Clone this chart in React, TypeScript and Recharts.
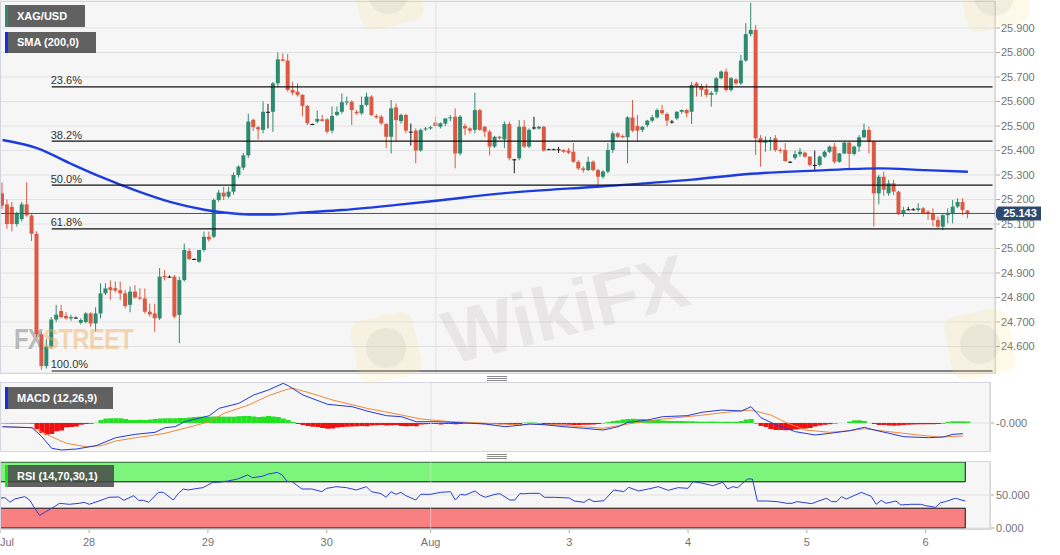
import React from 'react'
import {
  ComposedChart,
  Bar,
  Line,
  XAxis,
  YAxis,
  CartesianGrid,
  ReferenceLine,
  ReferenceArea,
} from 'recharts'

// hourly XAG/USD candles: open, high, low, close
const CANDLES: number[][] = [
  [25.225, 25.27, 25.16, 25.175], [25.18, 25.2, 25.08, 25.1], [25.17, 25.19, 25.07, 25.1], [25.1, 25.15, 25.09, 25.145], [25.12, 25.19, 25.11, 25.18],
  [25.18, 25.27, 25.13, 25.135], [25.135, 25.14, 25.03, 25.06], [25.06, 25.07, 24.64, 24.65], [24.65, 24.66, 24.505, 24.52], [24.52, 24.63, 24.51, 24.6],
  [24.6, 24.72, 24.59, 24.71], [24.71, 24.77, 24.7, 24.73], [24.745, 24.77, 24.715, 24.72], [24.725, 24.74, 24.71, 24.715], [24.715, 24.73, 24.705, 24.72],
  [24.718, 24.722, 24.714, 24.718], [24.697, 24.715, 24.69, 24.708], [24.7, 24.74, 24.695, 24.735], [24.735, 24.74, 24.68, 24.694], [24.694, 24.76, 24.66, 24.735],
  [24.735, 24.858, 24.715, 24.817], [24.817, 24.858, 24.81, 24.837], [24.842, 24.87, 24.79, 24.83], [24.838, 24.865, 24.82, 24.828], [24.83, 24.865, 24.79, 24.817],
  [24.817, 24.83, 24.756, 24.765], [24.77, 24.845, 24.74, 24.824], [24.824, 24.85, 24.795, 24.8], [24.8, 24.838, 24.79, 24.796], [24.796, 24.837, 24.735, 24.742],
  [24.742, 24.775, 24.722, 24.731], [24.735, 24.775, 24.66, 24.715], [24.715, 24.92, 24.708, 24.885], [24.888, 24.912, 24.87, 24.882], [24.885, 24.89, 24.88, 24.885],
  [24.885, 24.892, 24.715, 24.722], [24.729, 24.885, 24.613, 24.871], [24.871, 25.02, 24.865, 24.994], [24.99, 25.0, 24.953, 24.957], [24.957, 24.96, 24.955, 24.957],
  [24.946, 24.994, 24.942, 24.994], [24.994, 25.069, 24.987, 25.048], [25.048, 25.069, 25.028, 25.037], [25.048, 25.205, 25.042, 25.198], [25.198, 25.239, 25.19, 25.228],
  [25.228, 25.252, 25.198, 25.212], [25.212, 25.252, 25.205, 25.232], [25.232, 25.31, 25.22, 25.3], [25.3, 25.34, 25.29, 25.334], [25.33, 25.39, 25.32, 25.38],
  [25.38, 25.55, 25.37, 25.518], [25.525, 25.53, 25.48, 25.495], [25.495, 25.5, 25.445, 25.486], [25.484, 25.6, 25.47, 25.558], [25.558, 25.59, 25.49, 25.558],
  [25.558, 25.68, 25.476, 25.674], [25.674, 25.8, 25.66, 25.772], [25.772, 25.797, 25.763, 25.766], [25.767, 25.794, 25.64, 25.647], [25.647, 25.68, 25.626, 25.636],
  [25.64, 25.674, 25.62, 25.627], [25.627, 25.63, 25.54, 25.582], [25.582, 25.586, 25.504, 25.511], [25.508, 25.51, 25.505, 25.508], [25.518, 25.563, 25.511, 25.529],
  [25.527, 25.545, 25.518, 25.521], [25.527, 25.532, 25.47, 25.477], [25.481, 25.58, 25.47, 25.541], [25.545, 25.58, 25.54, 25.558], [25.558, 25.633, 25.55, 25.597],
  [25.597, 25.62, 25.585, 25.6], [25.599, 25.605, 25.504, 25.565], [25.558, 25.565, 25.545, 25.552], [25.552, 25.62, 25.545, 25.586], [25.586, 25.636, 25.58, 25.62],
  [25.62, 25.625, 25.54, 25.545], [25.541, 25.548, 25.53, 25.535], [25.538, 25.545, 25.505, 25.511], [25.508, 25.512, 25.41, 25.456], [25.456, 25.606, 25.388, 25.572],
  [25.576, 25.592, 25.436, 25.524], [25.52, 25.55, 25.51, 25.545], [25.545, 25.55, 25.47, 25.481], [25.477, 25.51, 25.42, 25.477], [25.481, 25.49, 25.348, 25.4],
  [25.4, 25.49, 25.395, 25.484], [25.486, 25.496, 25.48, 25.49], [25.49, 25.5, 25.485, 25.495], [25.514, 25.538, 25.495, 25.5], [25.497, 25.515, 25.49, 25.511],
  [25.51, 25.531, 25.5, 25.531], [25.531, 25.545, 25.52, 25.535], [25.538, 25.572, 25.327, 25.388], [25.388, 25.545, 25.38, 25.538], [25.5, 25.51, 25.463, 25.49],
  [25.49, 25.495, 25.47, 25.481], [25.484, 25.636, 25.47, 25.565], [25.565, 25.57, 25.48, 25.484], [25.497, 25.5, 25.456, 25.477], [25.477, 25.484, 25.38, 25.416],
  [25.416, 25.46, 25.41, 25.456], [25.456, 25.46, 25.445, 25.45], [25.445, 25.518, 25.41, 25.508], [25.508, 25.518, 25.36, 25.368], [25.364, 25.366, 25.307, 25.364],
  [25.368, 25.524, 25.36, 25.497], [25.497, 25.524, 25.41, 25.416], [25.416, 25.49, 25.41, 25.484], [25.494, 25.538, 25.485, 25.494], [25.49, 25.5, 25.485, 25.497],
  [25.497, 25.5, 25.395, 25.4], [25.405, 25.408, 25.402, 25.405], [25.405, 25.408, 25.402, 25.405], [25.405, 25.415, 25.39, 25.405], [25.402, 25.405, 25.39, 25.395],
  [25.4, 25.41, 25.385, 25.391], [25.395, 25.43, 25.35, 25.354], [25.354, 25.36, 25.32, 25.327], [25.327, 25.335, 25.31, 25.32], [25.32, 25.375, 25.315, 25.354],
  [25.354, 25.36, 25.315, 25.32], [25.32, 25.325, 25.26, 25.293], [25.293, 25.32, 25.285, 25.314], [25.314, 25.43, 25.307, 25.402], [25.402, 25.478, 25.39, 25.47],
  [25.47, 25.475, 25.45, 25.456], [25.459, 25.465, 25.45, 25.454], [25.454, 25.54, 25.348, 25.535], [25.535, 25.606, 25.475, 25.481], [25.5, 25.545, 25.436, 25.481],
  [25.484, 25.5, 25.475, 25.497], [25.504, 25.525, 25.495, 25.522], [25.522, 25.545, 25.515, 25.535], [25.535, 25.572, 25.53, 25.565], [25.565, 25.586, 25.545, 25.552],
  [25.549, 25.555, 25.5, 25.522], [25.518, 25.525, 25.51, 25.518], [25.531, 25.56, 25.525, 25.558], [25.558, 25.568, 25.55, 25.565], [25.565, 25.57, 25.535, 25.552],
  [25.558, 25.68, 25.508, 25.667], [25.674, 25.68, 25.62, 25.663], [25.663, 25.672, 25.62, 25.647], [25.65, 25.672, 25.618, 25.627], [25.627, 25.642, 25.579, 25.635],
  [25.64, 25.7, 25.627, 25.695], [25.695, 25.727, 25.69, 25.722], [25.722, 25.735, 25.64, 25.647], [25.647, 25.7, 25.64, 25.695], [25.69, 25.695, 25.667, 25.674],
  [25.674, 25.79, 25.667, 25.767], [25.767, 25.92, 25.762, 25.875], [25.875, 26.003, 25.865, 25.892], [25.892, 25.912, 25.382, 25.45], [25.45, 25.463, 25.334, 25.432],
  [25.432, 25.457, 25.395, 25.443], [25.436, 25.455, 25.4, 25.443], [25.45, 25.463, 25.395, 25.402], [25.402, 25.41, 25.39, 25.398], [25.402, 25.43, 25.354, 25.357],
  [25.354, 25.357, 25.35, 25.354], [25.37, 25.4, 25.362, 25.385], [25.385, 25.41, 25.375, 25.395], [25.391, 25.395, 25.37, 25.375], [25.375, 25.376, 25.334, 25.341],
  [25.341, 25.4, 25.314, 25.341], [25.341, 25.38, 25.335, 25.375], [25.375, 25.4, 25.37, 25.395], [25.395, 25.42, 25.39, 25.416], [25.416, 25.43, 25.346, 25.354],
  [25.354, 25.39, 25.35, 25.388], [25.388, 25.436, 25.385, 25.432], [25.432, 25.435, 25.327, 25.386], [25.386, 25.42, 25.38, 25.416], [25.416, 25.463, 25.395, 25.454],
  [25.454, 25.51, 25.45, 25.484], [25.484, 25.498, 25.388, 25.436], [25.436, 25.44, 25.09, 25.225], [25.225, 25.3, 25.18, 25.293], [25.293, 25.314, 25.215, 25.24],
  [25.225, 25.28, 25.215, 25.266], [25.266, 25.28, 25.218, 25.232], [25.232, 25.235, 25.136, 25.143], [25.143, 25.17, 25.13, 25.157], [25.16, 25.17, 25.155, 25.16],
  [25.16, 25.165, 25.155, 25.16], [25.157, 25.185, 25.15, 25.164], [25.164, 25.17, 25.14, 25.143], [25.15, 25.157, 25.117, 25.141], [25.141, 25.164, 25.09, 25.116],
  [25.116, 25.13, 25.082, 25.089], [25.089, 25.14, 25.075, 25.136], [25.136, 25.164, 25.103, 25.143], [25.143, 25.198, 25.103, 25.171], [25.171, 25.205, 25.165, 25.19],
  [25.19, 25.205, 25.137, 25.157], [25.155, 25.157, 25.123, 25.143],
]

// SMA(200) read at candle index
const SMA_POINTS = [
  [0, 25.443], [7, 25.41], [14, 25.345], [20, 25.292], [27, 25.237], [34, 25.19], [41, 25.158], [45, 25.147],
  [50, 25.139], [55, 25.139], [62, 25.148], [69, 25.157], [80, 25.178], [88, 25.195], [102, 25.226], [122, 25.254],
  [140, 25.281], [152, 25.305], [165, 25.318], [178, 25.327], [187, 25.32], [196, 25.313],
]

const MACD_POINTS = [
  [0, -0.037], [6, -0.047], [8, -0.137], [10, -0.253], [12, -0.27], [15, -0.26], [19, -0.227], [23, -0.147],
  [27, -0.113], [31, -0.093], [33, -0.047], [35, -0.037], [37, 0.013], [42, 0.073], [44, 0.147], [48, 0.197],
  [51, 0.28], [54, 0.33], [57, 0.397], [58, 0.373], [61, 0.28], [66, 0.187], [71, 0.163], [74, 0.12],
  [78, 0.073], [81, 0.063], [84, 0.013], [88, 0.013], [91, 0.007], [94, 0.0], [98, -0.01], [102, -0.037],
  [105, -0.023], [107, -0.01], [110, -0.017], [114, -0.037], [118, -0.053], [122, -0.07], [125, -0.037], [127, 0.007],
  [131, 0.03], [134, 0.063], [139, 0.073], [142, 0.107], [146, 0.13], [150, 0.12], [152, 0.163], [154, 0.053],
  [157, -0.017], [161, -0.087], [165, -0.12], [168, -0.103], [172, -0.077], [175, -0.043], [177, -0.07], [180, -0.103],
  [183, -0.137], [188, -0.147], [191, -0.14], [193, -0.113], [195, -0.107],
]

const SIGNAL_POINTS = [
  [0, -0.037], [6, -0.047], [10, -0.137], [13, -0.203], [17, -0.237], [20, -0.227], [23, -0.18], [27, -0.147],
  [30, -0.127], [33, -0.103], [37, -0.053], [42, 0.013], [45, 0.097], [50, 0.18], [54, 0.273], [58, 0.34],
  [59, 0.347], [62, 0.307], [67, 0.23], [74, 0.147], [81, 0.08], [85, 0.04], [91, 0.013], [96, 0.003],
  [101, -0.01], [105, -0.017], [107, -0.01], [114, -0.023], [122, -0.053], [127, -0.01], [134, 0.04], [141, 0.073],
  [147, 0.107], [152, 0.13], [156, 0.08], [159, 0.007], [163, -0.07], [168, -0.093], [172, -0.077], [175, -0.057],
  [180, -0.087], [186, -0.12], [190, -0.14], [195, -0.13],
]

// MACD histogram, one value per candle
const HIST = [
  -0.003, -0.004, -0.005, -0.005, -0.005, -0.005, -0.006, -0.06, -0.1, -0.117,
  -0.11, -0.083, -0.075, -0.043, -0.04, -0.035, -0.017, -0.01, -0.007, 0.002,
  0.03, 0.045, 0.047, 0.047, 0.047, 0.04, 0.03, 0.03, 0.032, 0.03,
  0.035, 0.04, 0.045, 0.047, 0.047, 0.047, 0.05, 0.05, 0.055, 0.06,
  0.063, 0.063, 0.063, 0.065, 0.065, 0.063, 0.063, 0.063, 0.068, 0.07,
  0.07, 0.065, 0.06, 0.063, 0.07, 0.065, 0.06, 0.045, 0.03, 0.01,
  -0.01, -0.02, -0.03, -0.037, -0.04, -0.05, -0.057, -0.055, -0.045, -0.04,
  -0.037, -0.035, -0.033, -0.03, -0.033, -0.025, -0.023, -0.02, -0.025, -0.023,
  -0.02, -0.03, -0.033, -0.03, -0.033, -0.015, -0.012, -0.01, -0.01, -0.015,
  -0.01, -0.01, -0.013, -0.01, -0.005, -0.003, -0.005, -0.01, -0.012, -0.015,
  -0.01, -0.012, -0.01, -0.015, -0.012, -0.01, 0.003, 0.005, 0.005, -0.005,
  -0.01, -0.013, -0.015, -0.015, -0.015, -0.017, -0.02, -0.02, -0.018, -0.017,
  -0.015, -0.01, -0.003, 0.01, 0.02, 0.025, 0.035, 0.04, 0.042, 0.04,
  0.04, 0.035, 0.03, 0.03, 0.025, 0.022, 0.02, 0.02, 0.02, 0.018,
  0.018, 0.015, 0.013, 0.013, 0.015, 0.013, 0.012, 0.013, 0.012, 0.013,
  0.02, 0.035, 0.04, -0.005, -0.03, -0.04, -0.06, -0.07, -0.07, -0.073,
  -0.07, -0.065, -0.06, -0.055, -0.05, -0.035, -0.025, -0.018, -0.012, -0.005,
  0, 0, 0.015, 0.027, 0.027, 0.02, 0, -0.01, -0.02, -0.02,
  -0.025, -0.027, -0.025, -0.02, -0.017, -0.015, -0.013, -0.013, -0.012, -0.012,
  -0.01, -0.005, 0.012, 0.017, 0.017, 0.017, 0.015,
]

const RSI_POINTS = [
  [0, 45], [1, 46], [2, 39], [3, 44], [5, 47.5], [6, 42.4], [7, 30], [8, 19], [9, 23.7], [11, 32.3],
  [12, 37.4], [14, 35.9], [16, 37.4], [17, 38.9], [18, 35.9], [20, 40.9], [22, 46.5], [24, 47], [25, 41.9], [27, 49],
  [28, 41.9], [29, 41.9], [30, 38.9], [32, 54], [33, 54], [35, 42.4], [36, 52], [37, 59.1], [38, 57.6], [40, 60.1],
  [41, 61.1], [43, 69.2], [44, 69.2], [46, 71.2], [48, 74.2], [50, 80.3], [51, 76.3], [53, 78.3], [54, 81.3], [56, 84.3],
  [57, 80.3], [58, 70.7], [59, 70.2], [61, 59.1], [63, 59.1], [65, 55.1], [66, 60.1], [68, 62.6], [70, 61.1], [72, 57.6],
  [74, 62.6], [75, 55.1], [77, 52], [78, 46.5], [79, 55.1], [80, 51], [81, 54], [82, 49], [84, 42.4], [85, 51],
  [87, 51], [89, 54], [91, 55], [92, 42.4], [93, 51], [94, 50], [96, 56.1], [97, 50], [98, 46.5], [100, 51],
  [101, 52], [103, 42.4], [104, 42.4], [105, 52], [106, 52], [107, 52.5], [109, 52.5], [110, 46.5], [112, 46.5], [115, 45.5],
  [116, 40.9], [118, 38.9], [119, 43.9], [120, 39.9], [122, 41.4], [124, 57.6], [126, 55.1], [127, 61.6], [129, 56.1], [131, 59.1],
  [133, 62.6], [135, 57.1], [137, 61.1], [139, 60.1], [140, 70.2], [142, 67.7], [144, 64.1], [146, 69.2], [147, 59.1], [148, 62.6],
  [149, 61.1], [151, 74.2], [152, 74.2], [153, 40.9], [155, 40.9], [157, 39.9], [159, 37.4], [160, 37.4], [161, 39.9], [164, 36.9],
  [165, 39.9], [167, 45.1], [168, 39.9], [169, 39.9], [170, 47.5], [171, 43.9], [174, 54], [175, 51], [176, 48], [177, 35.9],
  [178, 41.9], [179, 37.4], [181, 40.9], [182, 34.9], [184, 35.9], [186, 35.9], [187, 33.9], [189, 31.3], [190, 38.4], [191, 39.9],
  [193, 45.1], [195, 40.9],
]

const PRICE_TICKS = [24.5, 24.6, 24.7, 24.8, 24.9, 25.0, 25.1, 25.2, 25.3, 25.4, 25.5, 25.6, 25.7, 25.8, 25.9]
const DAY_TICKS = [0, 18, 42, 66, 87, 115, 139, 163, 187]
const DAY_LABELS = ['Jul', '28', '29', '30', 'Aug', '3', '4', '5', '6']
const FIB_RATIOS = [0.236, 0.382, 0.5, 0.618, 1]
const SWING_HIGH = 26.018
const SWING_LOW = 24.5
const FIB_START = 10
const LAST_PRICE = 25.143

const GREEN = '#2e8b6f'
const RED = '#dc5a43'
const PANEL_BG = '#f6f6f6'
const GRID = '#e2e2e2'
const AXIS_TEXT = '#737373'
const FONT = "'Liberation Sans', Arial, sans-serif"

const toMap = (pts: number[][]) => new Map(pts.map(([i, v]) => [i, v]))
const smaMap = toMap(SMA_POINTS)
const macdMap = toMap(MACD_POINTS)
const signalMap = toMap(SIGNAL_POINTS)
const rsiMap = toMap(RSI_POINTS)
const pick = (m: Map<number, number>, i: number) => (m.has(i) ? m.get(i) : null)

const mainRows = Array.from({ length: 202 }, (_, i) => {
  const k = CANDLES[i]
  return { i, range: k ? [k[2], k[1]] : null, ohlc: k || null, sma: pick(smaMap, i) }
})

const lowerRows = Array.from({ length: 201 }, (_, i) => ({
  i,
  macd: pick(macdMap, i),
  signal: pick(signalMap, i),
  hist: i < HIST.length ? HIST[i] : null,
  rsi: pick(rsiMap, i),
}))

function Candle(props: any) {
  const { x, y, width, height, payload } = props
  const k = payload && payload.ohlc
  if (!k) return null
  const [o, h, l, c] = k
  const top = Math.min(y, y + height)
  const span = Math.abs(height)
  const per = h > l ? span / (h - l) : 0
  const at = (v: number) => top + (h - v) * per
  const color = c > o ? GREEN : c < o ? RED : '#1a1a1a'
  const cx = x + width / 2
  const bodyTop = at(Math.max(o, c))
  const bodyH = Math.max(at(Math.min(o, c)) - bodyTop, 1)
  return (
    <g>
      <line x1={cx} x2={cx} y1={top} y2={top + span} stroke={color} strokeWidth={1} />
      <rect x={x} y={bodyTop} width={width} height={bodyH} fill={color} />
    </g>
  )
}

function HistBar(props: any) {
  const { x, y, width, height, payload } = props
  if (!payload || !payload.hist) return null
  return (
    <rect
      x={x}
      y={Math.min(y, y + height)}
      width={width}
      height={Math.abs(height)}
      fill={payload.hist > 0 ? '#22e022' : '#f01010'}
    />
  )
}

function FibLabel({ viewBox, text }: any) {
  if (!viewBox) return null
  return (
    <text x={viewBox.x - 1} y={viewBox.y - 2.5} fill="#333" fontSize={11} fontFamily={FONT}>
      {text}
    </text>
  )
}

function PriceTag({ viewBox }: any) {
  if (!viewBox) return null
  const y = viewBox.y
  const x0 = viewBox.x + viewBox.width
  return (
    <g>
      <path
        d={`M${x0 - 1},${y} L${x0 + 3},${y - 7} L${x0 + 46},${y - 7} L${x0 + 46},${y + 7} L${x0 + 3},${y + 7} Z`}
        fill="#2c4a6e"
      />
      <text x={x0 + 25} y={y + 4} textAnchor="middle" fill="#fff" fontSize={11} fontWeight="bold" fontFamily={FONT}>
        {LAST_PRICE.toFixed(3)}
      </text>
    </g>
  )
}

function DayTick(props: any) {
  const { x, y, payload } = props
  const idx = DAY_TICKS.indexOf(payload.value)
  const first = idx === 0
  return (
    <text
      x={first ? 0 : x}
      y={y + 11}
      textAnchor={first ? 'start' : 'middle'}
      fill={AXIS_TEXT}
      fontSize={11}
      fontFamily={FONT}
    >
      {DAY_LABELS[idx]}
    </text>
  )
}

function Tag({ top, width, height = 22, stripe, children }: any) {
  return (
    <div
      style={{
        position: 'absolute',
        left: 5,
        top,
        width,
        height,
        boxSizing: 'border-box',
        background: 'rgba(70,70,70,0.85)',
        borderLeft: `3px solid ${stripe}`,
        color: '#fff',
        fontWeight: 'bold',
        fontSize: 11,
        lineHeight: `${height}px`,
        paddingLeft: 9,
        fontFamily: FONT,
        whiteSpace: 'nowrap',
      }}
    >
      {children}
    </div>
  )
}

function Handle({ top }: { top: number }) {
  return (
    <div style={{ position: 'absolute', left: 487, top, width: 20, height: 5 }}>
      {[0, 2, 4].map((d) => (
        <div key={d} style={{ position: 'absolute', left: 0, top: d, width: 20, height: 1, background: '#8a8a8a' }} />
      ))}
    </div>
  )
}

function Logo({ left, top }: { left: number; top: number }) {
  return (
    <div
      style={{
        position: 'absolute',
        left,
        top,
        width: 64,
        height: 64,
        borderRadius: 12,
        background: 'rgba(250,215,120,0.16)',
        transform: 'rotate(-12deg)',
        pointerEvents: 'none',
      }}
    >
      <div
        style={{
          position: 'absolute',
          left: 12,
          top: 12,
          width: 40,
          height: 40,
          borderRadius: 20,
          background: 'rgba(150,140,140,0.1)',
        }}
      />
    </div>
  )
}

const frame = (left: number, top: number, width: number, height: number) => (
  <div
    style={{
      position: 'absolute',
      left,
      top,
      width,
      height,
      boxSizing: 'border-box',
      border: '1px solid #d4d4e2',
      pointerEvents: 'none',
    }}
  />
)

const yTick = { fill: AXIS_TEXT, fontSize: 11, fontFamily: FONT }

export default function App() {
  return (
    <div
      style={{
        position: 'absolute',
        left: 0,
        top: 0,
        width: 1060,
        height: 555,
        background: '#fff',
        overflow: 'hidden',
        fontFamily: FONT,
      }}
    >
      <div style={{ position: 'absolute', left: 0, top: 0 }}>
        <ComposedChart width={1060} height={376} data={mainRows} margin={{ top: 1, right: 0, bottom: 3, left: 0 }}>
          <CartesianGrid vertical={false} stroke={GRID} fill={PANEL_BG} />
          <XAxis dataKey="i" hide />
          <YAxis
            orientation="right"
            width={65}
            domain={[24.4918, 26.0102]}
            ticks={PRICE_TICKS}
            allowDataOverflow
            tickFormatter={(v: number) => v.toFixed(3)}
            tick={yTick}
            tickSize={5}
            tickMargin={1}
            tickLine={{ stroke: '#aaa' }}
            axisLine={{ stroke: '#ccc' }}
          />
          <ReferenceLine x={88} stroke={GRID} />
          <Bar dataKey="range" barSize={4} shape={(p: any) => <Candle {...p} />} isAnimationActive={false} />
          <Line
            dataKey="sma"
            type="monotone"
            stroke="#1c3ce0"
            strokeWidth={2.4}
            dot={false}
            activeDot={false}
            connectNulls
            isAnimationActive={false}
          />
          {FIB_RATIOS.map((r) => {
            const level = SWING_HIGH - r * (SWING_HIGH - SWING_LOW)
            return (
              <ReferenceLine
                key={r}
                segment={[
                  { x: FIB_START, y: level },
                  { x: 201, y: level },
                ]}
                stroke="#111"
                strokeWidth={1.2}
                label={<FibLabel text={`${(r * 100).toFixed(1)}%`} />}
              />
            )
          })}
          <ReferenceLine y={LAST_PRICE} stroke="#3a5576" label={<PriceTag />} />
        </ComposedChart>
      </div>

      <div style={{ position: 'absolute', left: 0, top: 382 }}>
        <ComposedChart
          width={1060}
          height={70}
          data={lowerRows}
          margin={{ top: 0, right: 0, bottom: 0, left: 0 }}
          barCategoryGap={0}
        >
          <CartesianGrid vertical={false} stroke={GRID} fill={PANEL_BG} />
          <XAxis dataKey="i" hide />
          <YAxis
            orientation="right"
            width={70}
            domain={[-0.29, 0.41]}
            ticks={[-0.0001]}
            allowDataOverflow
            tickFormatter={(v: number) => v.toFixed(3)}
            tick={yTick}
            tickSize={4}
            tickMargin={2}
            tickLine={{ stroke: '#aaa' }}
            axisLine={{ stroke: '#ccc' }}
          />
          <ReferenceLine x={87} stroke={GRID} />
          <Bar dataKey="hist" shape={(p: any) => <HistBar {...p} />} isAnimationActive={false} />
          <Line
            dataKey="signal"
            stroke="#f0883a"
            strokeWidth={1}
            dot={false}
            activeDot={false}
            connectNulls
            isAnimationActive={false}
          />
          <Line
            dataKey="macd"
            stroke="#2438d8"
            strokeWidth={1}
            dot={false}
            activeDot={false}
            connectNulls
            isAnimationActive={false}
          />
        </ComposedChart>
      </div>

      <div style={{ position: 'absolute', left: 0, top: 461 }}>
        <ComposedChart width={1060} height={94} data={lowerRows} margin={{ top: 0, right: 0, bottom: 0, left: 0 }}>
          <CartesianGrid vertical={false} stroke={GRID} fill={PANEL_BG} />
          <XAxis
            dataKey="i"
            ticks={DAY_TICKS}
            interval={0}
            height={26}
            tick={<DayTick />}
            tickSize={4}
            tickMargin={2}
            tickLine={{ stroke: '#aaa' }}
            axisLine={{ stroke: '#ccc' }}
          />
          <YAxis
            orientation="right"
            width={70}
            domain={[-1.5, 101.5]}
            ticks={[0, 50]}
            allowDataOverflow
            tickFormatter={(v: number) => v.toFixed(3)}
            tick={yTick}
            tickSize={4}
            tickMargin={2}
            tickLine={{ stroke: '#aaa' }}
            axisLine={{ stroke: '#ccc' }}
          />
          <ReferenceLine x={87} stroke="#ececec" strokeOpacity={0.5} />
          <ReferenceArea y1={70} y2={100} x2={195} fill="#7df57d" fillOpacity={1} stroke="#111" />
          <ReferenceArea y1={0} y2={30} x2={195} fill="#f98080" fillOpacity={1} stroke="#111" />
          <Line
            dataKey="rsi"
            stroke="#2a3fd4"
            strokeWidth={1}
            dot={false}
            activeDot={false}
            connectNulls
            isAnimationActive={false}
          />
        </ComposedChart>
      </div>

      {frame(0, 1, 996, 373)}
      {frame(0, 382, 991, 70)}
      {frame(0, 461, 991, 69)}
      <Handle top={376} />
      <Handle top={454} />

      {/* faint watermarks */}
      <div
        style={{
          position: 'absolute',
          left: 455,
          top: 295,
          fontSize: 75,
          fontWeight: 'bold',
          color: 'rgba(110,90,90,0.1)',
          transform: 'rotate(-14deg)',
          transformOrigin: 'left bottom',
          pointerEvents: 'none',
        }}
      >
        WikiFX
      </div>
      <Logo left={354} top={316} />
      <Logo left={948} top={312} />
      <Logo left={356} top={-38} />
      <Logo left={962} top={-36} />
      <div
        style={{
          position: 'absolute',
          left: 14,
          top: 322,
          fontSize: 30,
          fontWeight: 'bold',
          letterSpacing: -1,
          transform: 'scaleX(0.8)',
          transformOrigin: 'left center',
          pointerEvents: 'none',
        }}
      >
        <span style={{ color: 'rgba(110,110,110,0.45)' }}>FX</span>
        <span style={{ color: 'rgba(240,170,90,0.45)' }}>STREET</span>
      </div>

      <Tag top={5} width={80} stripe={GREEN}>XAG/USD</Tag>
      <Tag top={32} width={91} height={21} stripe="#1330e8">SMA (200,0)</Tag>
      <Tag top={387} width={108} stripe="#1330e8">MACD (12,26,9)</Tag>
      <Tag top={465} width={109} stripe="#22dd22">RSI (14,70,30,1)</Tag>
    </div>
  )
}
